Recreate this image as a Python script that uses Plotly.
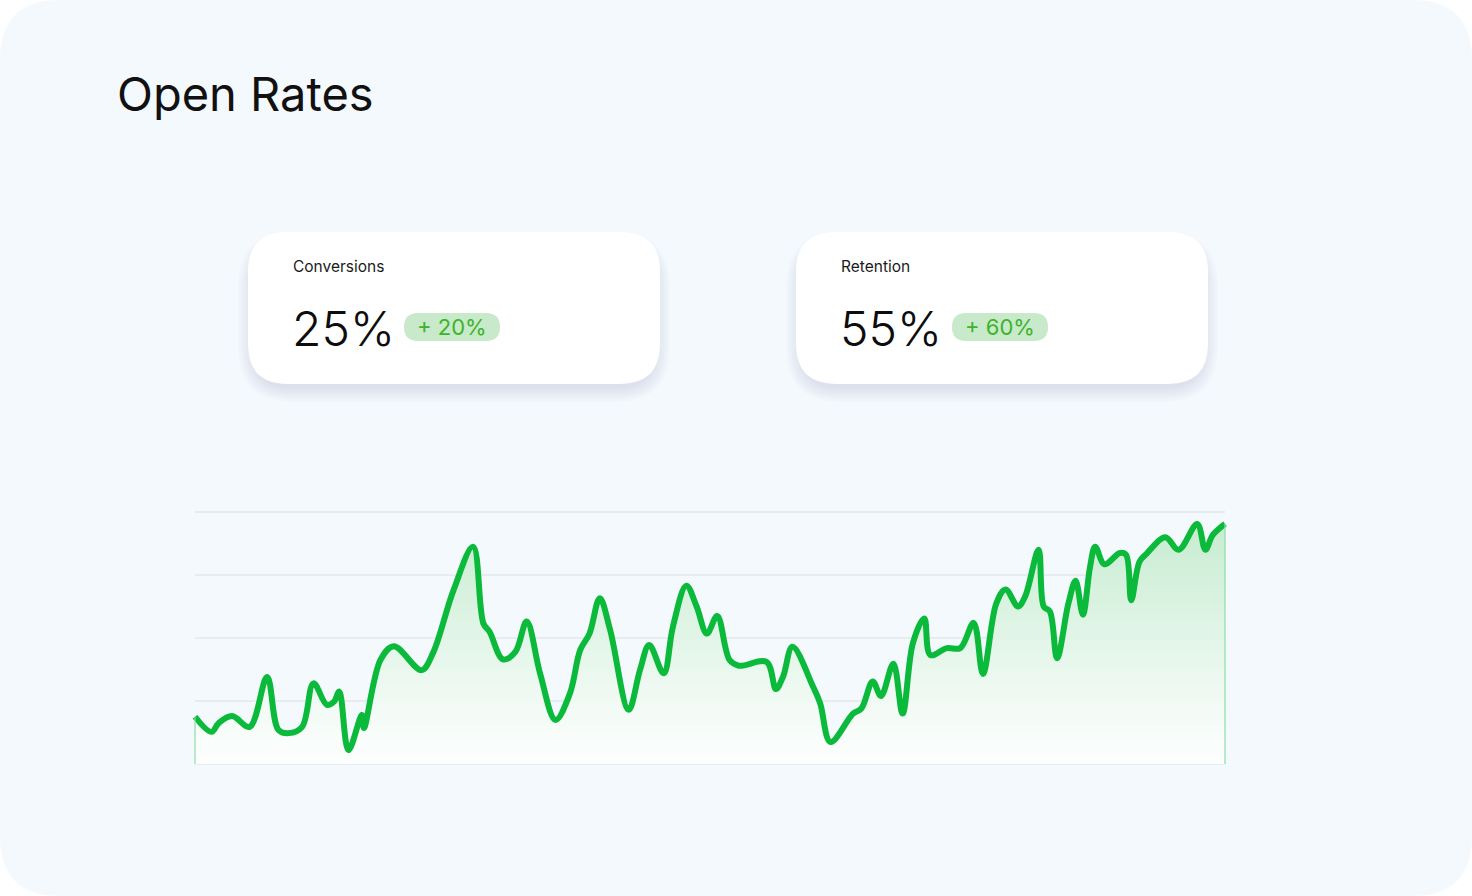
import plotly.graph_objects as go

W, H = 1472, 896

# x positions along the period (0-100) and open-rate values (0-40)
t = [0, 1.6, 2.3, 3.6, 5.3, 7.0, 8.1, 9.1, 10.4, 11.5, 12.8, 13.5, 14.0, 14.9, 16.2, 16.4,
     18.0, 19.3, 22.0, 23.1, 25.1, 27.0, 28.0, 28.6, 29.9, 31.1, 32.2, 33.5, 35.0, 36.4,
     37.4, 38.3, 39.3, 40.3, 42.1, 43.2, 44.1, 45.5, 46.4, 47.7, 48.7, 49.7, 50.7, 51.9,
     52.8, 55.5, 56.4, 57.1, 58.0, 60.0, 60.7, 61.7, 63.9, 64.7, 65.8, 66.6, 67.8, 68.7,
     69.7, 70.8, 71.4, 73.0, 74.3, 75.6, 76.5, 77.8, 78.7, 79.9, 80.6, 81.9, 82.4, 83.0,
     83.7, 84.8, 85.5, 86.2, 86.9, 87.4, 88.3, 89.8, 90.4, 90.9, 91.7, 92.4, 94.2, 95.5,
     97.3, 98.1, 98.8, 100]
open_rate = [7.5, 5.1, 6.5, 7.6, 5.9, 13.8, 5.4, 4.9, 5.9, 12.8, 9.4, 9.9, 11.5, 2.2, 7.8, 5.7,
             16.5, 18.7, 14.9, 17.6, 27.6, 34.5, 22.3, 21.0, 16.6, 17.8, 22.6, 14.4, 7.0, 11.2,
             18.1, 20.7, 26.3, 21.3, 8.6, 14.9, 18.9, 14.4, 21.8, 28.3, 25.0, 20.7, 23.5, 16.5,
             15.6, 16.2, 11.9, 13.9, 18.6, 12.3, 9.6, 3.5, 8.0, 8.8, 13.1, 10.8, 15.9, 8.0,
             19.2, 23.1, 17.3, 18.4, 18.4, 22.4, 14.3, 25.5, 27.7, 25.0, 26.6, 34.0, 25.0, 24.2,
             16.8, 25.5, 29.1, 23.7, 31.3, 34.5, 31.7, 33.5, 33.2, 26.0, 32.1, 33.4, 36.0, 34.0,
             38.1, 34.0, 36.3, 38.1]
grid_vals = [0, 10, 20, 30, 40]

cards = ['Conversions', 'Retention']
card_values = ['25%', '55%']
card_changes = ['+ 20%', '+ 60%']

GREEN = '#0BB93B'
FONT = 'Inter'


def px(x):
    return x / W


def py(y):
    return 1 - y / H


def rrect(x0, y0, x1, y1, r):
    # rounded rectangle path in paper coords, input in pixels
    pts = [('M', x0 + r, y0), ('L', x1 - r, y0), ('Q', x1, y0, x1, y0 + r),
           ('L', x1, y1 - r), ('Q', x1, y1, x1 - r, y1), ('L', x0 + r, y1),
           ('Q', x0, y1, x0, y1 - r), ('L', x0, y0 + r), ('Q', x0, y0, x0 + r, y0)]
    s = ''
    for p in pts:
        s += p[0]
        vals = p[1:]
        for i in range(0, len(vals), 2):
            s += f' {px(vals[i]):.5f},{py(vals[i + 1]):.5f}'
        s += ' '
    return s + 'Z'


fig = go.Figure()

fig.add_trace(go.Scatter(x=t, y=open_rate, mode='lines',
                         line=dict(color=GREEN, width=6, shape='spline', smoothing=1.0),
                         fill='tozeroy',
                         fillgradient=dict(type='vertical',
                                           colorscale=[[0, 'rgba(255,255,255,0.9)'],
                                                       [1, 'rgba(198,236,208,1)']]),
                         hoverinfo='skip', showlegend=False))
# thin edges of the filled area
fig.add_trace(go.Scatter(x=[t[0], t[0], None, t[-1], t[-1]],
                         y=[0, open_rate[0], None, 0, open_rate[-1]],
                         mode='lines', line=dict(color='#8FDDA5', width=1.2),
                         hoverinfo='skip', showlegend=False))

shapes = []
# page panel
shapes.append(dict(type='path', path=rrect(0, 0, W, H, 60), xref='paper', yref='paper',
                   fillcolor='#F4F9FE', line=dict(width=0), layer='below'))
# gridlines
for g in grid_vals:
    shapes.append(dict(type='line', xref='x', yref='y', x0=t[0], x1=t[-1], y0=g, y1=g,
                       line=dict(color='#E3E7EC', width=1.5), layer='below'))

annotations = [dict(text='Open Rates', x=px(115), y=py(93), xref='paper', yref='paper',
                    xanchor='left', yanchor='middle', showarrow=False,
                    font=dict(family=FONT, size=47, color='#111111'))]

for i, name in enumerate(cards):
    x0 = 248 + i * 548
    # soft shadow, mostly under the card
    for k in range(6):
        e = 1 + k * 2.5
        shapes.append(dict(type='path', path=rrect(x0 - e + 4, 232 - e + 14, x0 + 412 + e - 4, 384 + e + 4, 40 + e),
                           xref='paper', yref='paper', fillcolor='rgba(60,75,100,0.018)',
                           line=dict(width=0), layer='below'))
    shapes.append(dict(type='path', path=rrect(x0, 232, x0 + 412, 384, 40), xref='paper', yref='paper',
                       fillcolor='white', line=dict(width=0), layer='below'))
    shapes.append(dict(type='path', path=rrect(x0 + 156, 313, x0 + 252, 341, 14), xref='paper',
                       yref='paper', fillcolor='#C8E9CA', line=dict(width=0), layer='below'))
    annotations.append(dict(text=name, x=px(x0 + 43), y=py(266), xref='paper', yref='paper',
                            xanchor='left', yanchor='middle', showarrow=False,
                            font=dict(family=FONT, size=15.5, color='#1A1A1A')))
    annotations.append(dict(text=card_values[i], x=px(x0 + 42), y=py(328), xref='paper', yref='paper',
                            xanchor='left', yanchor='middle', showarrow=False,
                            font=dict(family=FONT, size=48, color='#0D0D0D', weight=300)))
    annotations.append(dict(text=card_changes[i], x=px(x0 + 204), y=py(327.5), xref='paper', yref='paper',
                            xanchor='center', yanchor='middle', showarrow=False,
                            font=dict(family=FONT, size=22, color='#3DB42A')))

fig.update_layout(width=W, height=H, margin=dict(l=0, r=0, t=0, b=0),
                  paper_bgcolor='white', plot_bgcolor='rgba(0,0,0,0)',
                  shapes=shapes, annotations=annotations,
                  xaxis=dict(range=[-0.4, 100.4], domain=[190.9 / W, 1229.1 / W],
                             showgrid=False, zeroline=False, showticklabels=False, fixedrange=True),
                  yaxis=dict(range=[-1, 41], domain=[1 - 770.3 / H, 1 - 505.7 / H],
                             showgrid=False, zeroline=False, showticklabels=False, fixedrange=True),
                  hovermode=False)

fig.write_html('out.html', config=dict(displayModeBar=False),
               post_script="document.body.style.margin='0';")
